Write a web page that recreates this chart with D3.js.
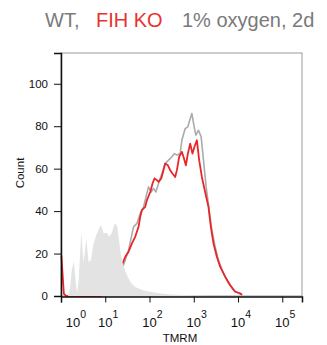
<!DOCTYPE html>
<html>
<head>
<meta charset="utf-8">
<script src="https://cdn.jsdelivr.net/npm/d3@7"></script>
<style>
  body { margin: 0; background: #fff; }
  svg text { font-family: "Liberation Sans", Arial, sans-serif; }
</style>
</head>
<body>
<svg id="chart"></svg>
<script>
// unstained control (filled grey)
var ctrlTmrm  = [1.42, 1.58, 1.75, 1.95, 2.16, 2.33, 2.52, 2.87, 3.24, 3.72, 4.20, 4.75, 5.36, 6.11, 6.95, 8.00, 9.16, 10.8, 12.3, 14.0, 16.4, 18.7, 20.2, 22.4, 24.8, 27.5, 32.2, 38.6, 47.5, 73.3, 135, 293, 830, 2340];
var ctrlCount = [0, 3, 12, 16.5, 6, 1.5, 8, 30, 15.5, 27, 16, 17, 24, 28, 31, 33.4, 29.6, 29.8, 28, 29.6, 34.4, 32.6, 27, 20, 15.5, 12.5, 9, 6, 4.2, 2.6, 1.5, 0.7, 0.3, 0];

// WT (grey line)
var wtTmrm  = [1.32, 8, 12, 17, 22, 25.9, 33.6, 43.5, 52.0, 61.7, 73.3, 94.9, 109, 123, 139, 160, 191, 226, 269, 321, 366, 416, 493, 538, 640, 736, 787, 906, 1021, 1114, 1276, 1469, 1656, 1905, 2228, 2564, 3041, 3614, 4677, 6067, 7870, 10200, 12360];
var wtCount = [0, 0, 3, 8, 12, 14.6, 21.6, 32.6, 34.2, 38.9, 42, 51.4, 49, 50.7, 49, 53, 57.7, 62.4, 64, 65.6, 67.1, 66.4, 67.1, 73.4, 78.9, 79.7, 82, 86, 79.7, 75.8, 78.1, 75, 64, 51.4, 40.5, 31, 23.2, 16.9, 10.7, 6, 2.8, 1.3, 0.4];

// FIH KO (red line)
var koTmrm  = [1.02, 1.16, 1.32, 8, 12, 17, 21, 23.8, 28.3, 33.6, 40.1, 47.5, 56.5, 61.7, 67.3, 80.0, 87.4, 104, 117, 130, 147, 160, 184, 207, 226, 260, 293, 330, 380, 416, 468, 538, 585, 663, 736, 830, 935, 1038, 1175, 1324, 1524, 1807, 2148, 2432, 2786, 3321, 3945, 5117, 6637, 8610, 11150, 12360];
var koCount = [19, 1, 0, 0, 3, 8, 12, 14.6, 18.5, 20.9, 24.8, 27.9, 32.6, 37.3, 40.5, 42, 45.2, 49, 53, 55.4, 54.6, 53.8, 55.4, 59.3, 62.4, 61.6, 59.3, 57.7, 56.1, 59.3, 65.6, 67.9, 65.6, 61.6, 67.1, 71.8, 67.1, 70.3, 73.4, 64, 56.1, 49, 42, 32.6, 24.8, 18.5, 13.8, 9.1, 5.2, 2, 1.3, 0.5];

var yMajor = [0, 20, 40, 60, 80, 100];
var xDecades = [0, 1, 2, 3, 4, 5];

var width = 327, height = 345;
var svg = d3.select('#chart').attr('width', width).attr('height', height);

var x = d3.scaleLog().domain([1, 2.79e5]).range([61, 302]);
var y = d3.scaleLinear().domain([0, 114.5]).range([296, 53]);

function zip(a, b) { return a.map(function(v, i) { return [v, b[i]]; }); }

// title
var title = svg.append('g').attr('font-size', 20);
title.append('text').attr('x', 45).attr('y', 27).attr('fill', '#7a7a7a').text('WT,');
title.append('text').attr('x', 96).attr('y', 27).attr('fill', '#e8322e').text('FIH KO');
title.append('text').attr('x', 182).attr('y', 27).attr('fill', '#7a7a7a').text('1% oxygen, 2d');

// frame
svg.append('rect')
  .attr('x', 61).attr('y', 53).attr('width', 241).attr('height', 243)
  .attr('fill', 'none').attr('stroke', '#999').attr('stroke-width', 1);

var line = d3.line()
  .x(function(d) { return x(d[0]); })
  .y(function(d) { return y(d[1]); });

svg.append('path').datum(zip(wtTmrm, wtCount))
  .attr('d', line).attr('fill', 'none')
  .attr('stroke', '#ababab').attr('stroke-width', 1.6).attr('stroke-linejoin', 'round');

svg.append('path').datum(zip(koTmrm, koCount))
  .attr('d', line).attr('fill', 'none')
  .attr('stroke', '#e8262a').attr('stroke-width', 1.8).attr('stroke-linejoin', 'round');

// control histogram is drawn on top of the lines
var area = d3.area()
  .x(function(d) { return x(d[0]); })
  .y0(y(0))
  .y1(function(d) { return y(d[1]); });

svg.append('path').datum(zip(ctrlTmrm, ctrlCount))
  .attr('d', area).attr('fill', '#e3e3e3');

// y axis
var yMinor = d3.range(0, 115, 5).filter(function(v) { return v % 20 !== 0; });
var gy = svg.append('g').attr('transform', 'translate(61,0)');
gy.call(d3.axisLeft(y).tickValues(yMinor).tickSize(3.5).tickFormat(''));
gy.call(d3.axisLeft(y).tickValues(yMajor).tickSize(7).tickPadding(6));
gy.selectAll('text').attr('font-size', 11.5).attr('fill', '#111');
gy.selectAll('.tick line').attr('stroke', '#111');
gy.select('.domain').attr('stroke', '#111').attr('stroke-width', 1.5);

// x axis
var xMinor = [];
xDecades.forEach(function(k) {
  for (var m = 2; m <= 9; m++) {
    var v = m * Math.pow(10, k);
    if (v <= x.domain()[1]) xMinor.push(v);
  }
});
var gx = svg.append('g').attr('transform', 'translate(0,296.5)');
gx.call(d3.axisBottom(x).tickValues(xMinor).tickSize(3).tickFormat(''));
gx.call(d3.axisBottom(x).tickValues(xDecades.map(function(k) { return Math.pow(10, k); })).tickSize(6).tickFormat(''));
gx.selectAll('.tick line').attr('stroke', '#111');
gx.select('.domain').attr('stroke', '#111').attr('stroke-width', 1.5);

var xl = svg.append('g').attr('fill', '#111');
xDecades.forEach(function(k) {
  var px = x(Math.pow(10, k)) - 7.3 + (k === 0 ? 12 : 0);
  var t = xl.append('text').attr('x', px).attr('y', 327).attr('font-size', 13);
  t.append('tspan').text('10');
  t.append('tspan').attr('dy', -9).attr('font-size', 10.5).text(k);
});

// axis titles
svg.append('text')
  .attr('x', 180).attr('y', 342).attr('text-anchor', 'middle')
  .attr('font-size', 11.5).attr('fill', '#111').text('TMRM');

svg.append('text')
  .attr('transform', 'translate(24,173) rotate(-90)')
  .attr('text-anchor', 'middle')
  .attr('font-size', 11.5).attr('fill', '#111').text('Count');
</script>
</body>
</html>
